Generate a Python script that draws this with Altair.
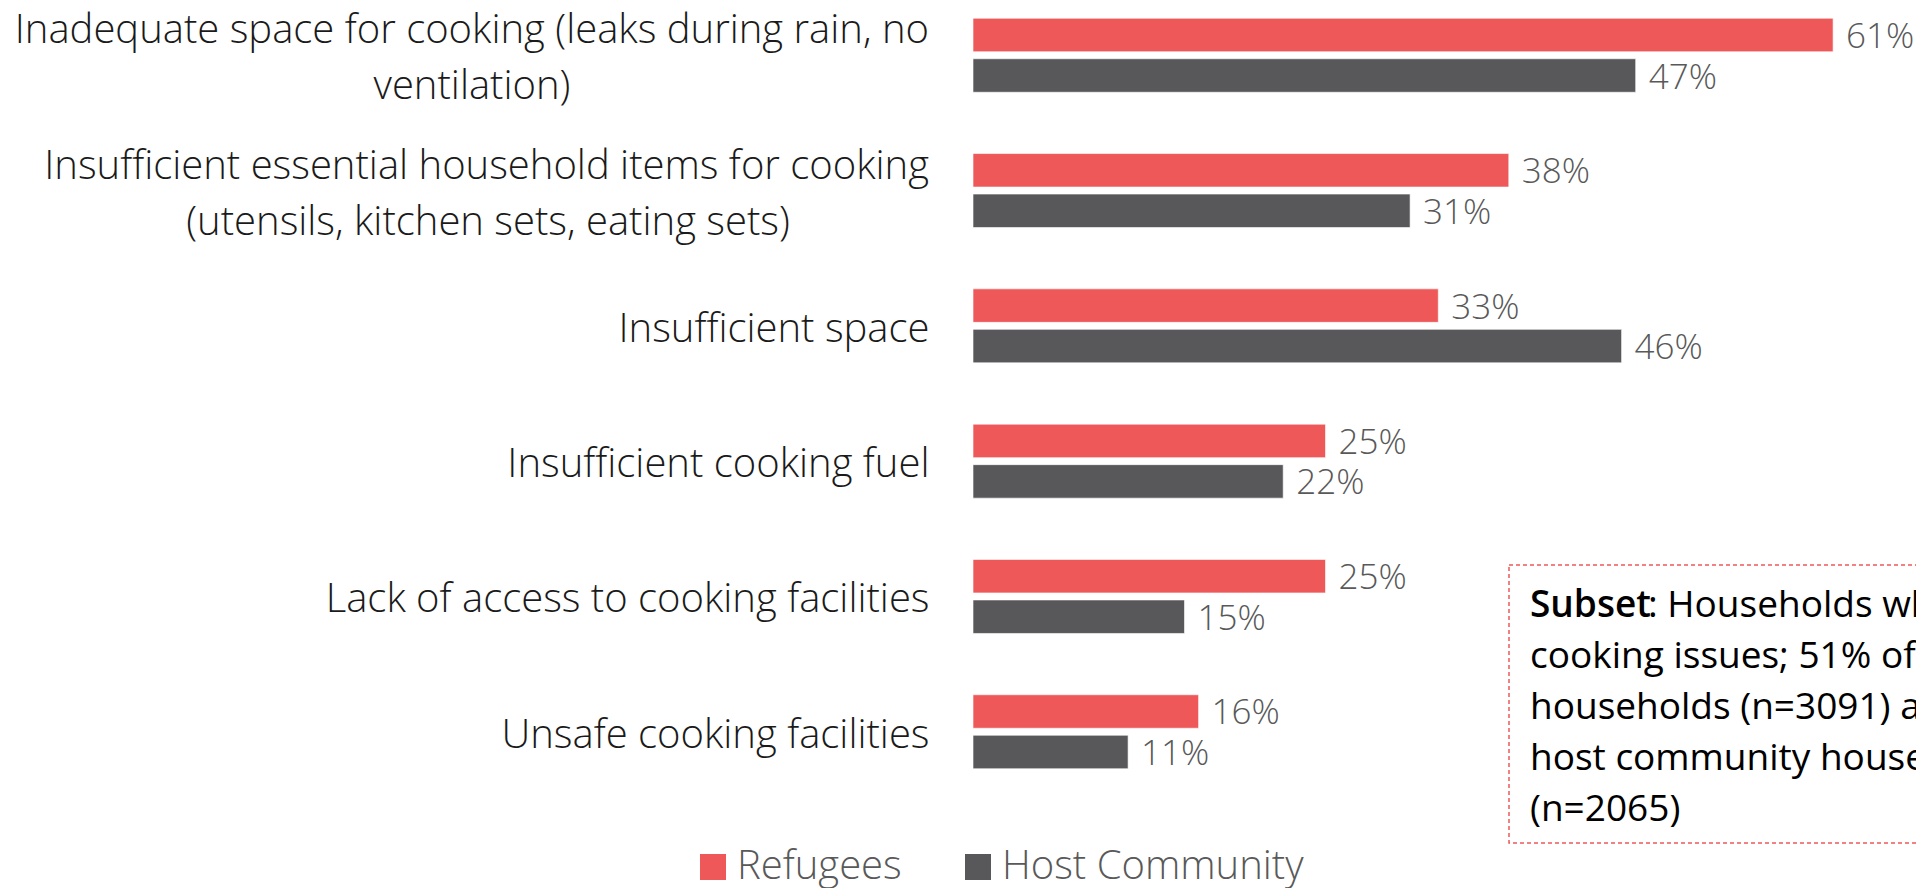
import altair as alt
import pandas as pd

label_lines = [
    ["Inadequate space for cooking (leaks during rain, no", "ventilation)"],
    ["Insufficient essential household items for cooking", "(utensils, kitchen sets, eating sets)"],
    ["Insufficient space"],
    ["Insufficient cooking fuel"],
    ["Lack of access to cooking facilities"],
    ["Unsafe cooking facilities"],
]
categories = [" ".join(l) for l in label_lines]
series = ["Refugees", "Host Community"]
refugees = [61, 38, 33, 25, 25, 16]
host = [47, 31, 46, 22, 15, 11]
colors = ["#EE5859", "#58585A"]

note_head = "Subset"
note_first = ": Households who reported"
note_rest = [
    "cooking issues; 51% of refugee",
    "households (n=3091) and",
    "host community households",
    "(n=2065)",
]

FONT = "Open Sans"
LIGHT = 300
LBL = 40

rows = []
for cat, r, h in zip(categories, refugees, host):
    rows.append({"category": cat, "series": series[0], "value": r, "label": f"{r}%"})
    rows.append({"category": cat, "series": series[1], "value": h, "label": f"{h}%"})
df = pd.DataFrame(rows)

# two-line labels are drawn by text layers; the axis shows the one-line ones
expr = ""
for lines, cat in zip(label_lines, categories):
    if len(lines) > 1:
        expr += f"datum.value == '{cat}' ? '' : "
expr += "datum.value"

W, H = 943, 771
y_enc = alt.Y("category:N", sort=categories,
              scale=alt.Scale(paddingInner=0.453, paddingOuter=0.0757),
              axis=alt.Axis(title=None, domain=False, ticks=False, labelPadding=44,
                            labelFontSize=LBL, labelFont=FONT, labelFontWeight=LIGHT,
                            labelColor="#1a1a1a", labelLimit=0, labelExpr=expr,
                            labelOffset=4, labelAlign="right", labelBaseline="middle"))
yoff = alt.YOffset("series:N", sort=series,
                   scale=alt.Scale(domain=series, paddingInner=0.173, paddingOuter=0))
x_enc = alt.X("value:Q", scale=alt.Scale(domain=[0, W / 14.1], nice=False, zero=True), axis=None)

base = alt.Chart(df)
bars = base.mark_bar(stroke="#ffffff", strokeWidth=1, strokeOpacity=0.6).encode(
    x=x_enc, y=y_enc, yOffset=yoff,
    color=alt.Color("series:N", sort=series,
                    scale=alt.Scale(domain=series, range=colors),
                    legend=alt.Legend(orient="none", legendX=-280, legendY=839,
                                      direction="horizontal", title=None,
                                      symbolType="square", symbolSize=676,
                                      symbolStrokeWidth=0, symbolOpacity=1,
                                      labelFontSize=LBL, labelFont=FONT,
                                      labelFontWeight=LIGHT, labelColor="#595959",
                                      labelOffset=4, columnPadding=56, padding=0,
                                      labelLimit=0)),
)
values = base.mark_text(align="left", baseline="middle", dx=13, dy=2, fontSize=35,
                        font=FONT, fontWeight=LIGHT, color="#595959").encode(
    x="value:Q", y=alt.Y("category:N", sort=categories), yOffset=alt.YOffset("series:N", sort=series),
    text="label:N",
)

two_line = []
centers = [-501, -485]
k = 0
for lines, cat in zip(label_lines, categories):
    if len(lines) > 1:
        src = alt.Chart(df[(df.category == cat) & (df.series == series[0])])
        two_line.append(
            src.mark_text(align="right", baseline="middle", dy=-24, fontSize=LBL, font=FONT,
                          fontWeight=LIGHT, color="#1a1a1a", text=lines[0])
            .encode(y=alt.Y("category:N", sort=categories), x=alt.value(-44))
        )
        two_line.append(
            src.mark_text(align="center", baseline="middle", dy=32, fontSize=LBL, font=FONT,
                          fontWeight=LIGHT, color="#1a1a1a", text=lines[1])
            .encode(y=alt.Y("category:N", sort=categories), x=alt.value(centers[k]))
        )
        k += 1

NOTE = 37
one = alt.Data(values=[{"k": 1}])
box = alt.Chart(one).mark_rect(fill=None, stroke="#EE5859", strokeWidth=1.5,
                               strokeDash=[4, 3]).encode(
    x=alt.value(536), x2=alt.value(1500), y=alt.value(557), y2=alt.value(835))
head = alt.Chart(one).mark_text(align="left", baseline="alphabetic", fontSize=NOTE, font=FONT,
                                fontWeight=600, color="#000000", text=note_head).encode(
    x=alt.value(557), y=alt.value(609))
first = alt.Chart(one).mark_text(align="left", baseline="alphabetic", fontSize=NOTE, font=FONT,
                                 fontWeight="normal", color="#000000", text=note_first).encode(
    x=alt.value(557 + 118), y=alt.value(609))
rest = alt.Chart(one).mark_text(align="left", baseline="alphabetic", fontSize=NOTE, font=FONT,
                                fontWeight="normal", color="#000000", text=note_rest,
                                lineHeight=51).encode(
    x=alt.value(557), y=alt.value(660))

chart = alt.layer(bars, values, *two_line, box, head, first, rest).properties(
    width=W, height=H,
    autosize=alt.AutoSizeParams(type="none"),
    padding={"left": 965, "top": 0, "right": 0, "bottom": 109},
    background="white",
).configure_view(stroke=None)

chart.save("out.html", embed_options={"renderer": "svg", "actions": False})
